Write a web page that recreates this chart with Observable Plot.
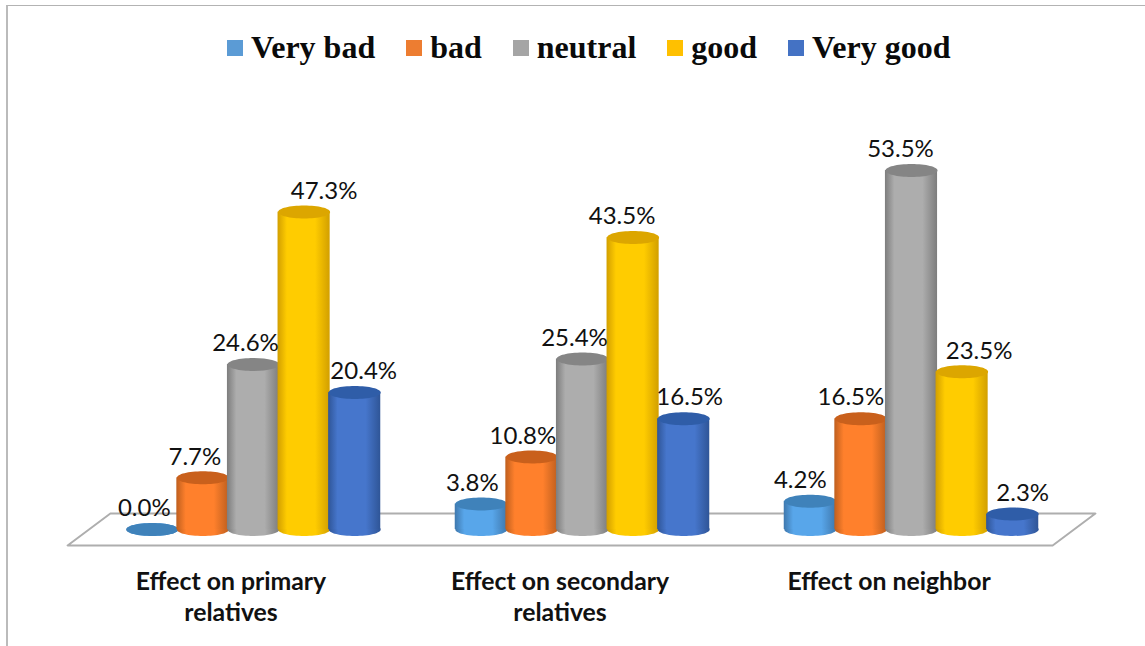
<!DOCTYPE html>
<html>
<head>
<meta charset="utf-8">
<script src="https://cdn.jsdelivr.net/npm/d3@7"></script>
<script src="https://cdn.jsdelivr.net/npm/@observablehq/plot@0.6"></script>
<style>
  html, body { margin: 0; padding: 0; background: #fff; }
  body { width: 1145px; height: 646px; position: relative; overflow: hidden; }
  #frame { position: absolute; left: 6px; top: 5px; right: 0; bottom: 0; border-top: 1px solid #b3b3b3; border-left: 2px solid #bbb; pointer-events: none; }
  #legend { height: 95px; box-sizing: border-box; padding: 27px 0 0 227px; display: flex; align-items: flex-start; gap: 31px;
            font: bold 32px "Liberation Serif", serif; color: #0a0a0a; line-height: 41px; }
  #legend span { display: flex; align-items: center; gap: 8px; white-space: nowrap; }
  #legend i { width: 16px; height: 16px; display: block; }
  #chart svg { display: block; }
</style>
</head>
<body>
<div id="frame"></div>
<div id="legend"></div>
<div id="chart"></div>
<script>
const groups = ["Effect on primary\nrelatives", "Effect on secondary\nrelatives", "Effect on neighbor"];
const seriesNames = ["Very bad", "bad", "neutral", "good", "Very good"];
const veryBad = [0.0, 3.8, 4.2];
const bad = [7.7, 10.8, 16.5];
const neutral = [24.6, 25.4, 53.5];
const good = [47.3, 43.5, 23.5];
const veryGood = [20.4, 16.5, 2.3];
const seriesValues = [veryBad, bad, neutral, good, veryGood];

// Cylinder shading per series: legend swatch, edge, centre, cap.
const swatch = ["#5b9bd5", "#ed7d31", "#a5a5a5", "#ffc000", "#4472c4"];
const edge = ["#3f78ad", "#bf5f1e", "#7d7d7d", "#d29f00", "#2f5597"];
const centre = ["#58a6ea", "#ff802c", "#adadad", "#ffcc00", "#4676cc"];
const cap = ["#3f82ba", "#c9601c", "#858585", "#dca600", "#2f5da8"];

// Horizontal nudge of each value label, in pixels, per series then group.
const labelNudge = [[-8, -9, -10], [-8, -9, -10], [-8, -8, -11], [20, -11, 17], [9, 6, 10]];

// Outline of the slanted floor, in axis units (group position, percent).
const floorX = [-0.565, 2.429, 2.559, -0.435];
const floorY = [-2.38, -2.38, 2.38, 2.38];

const barStep = 0.1538;      // bar spacing as a share of the group spacing
const capRx = 26, capRy = 6.5;
const pxPerPercent = 6.71;
const legendHeight = 95;
const baseY = 529 - legendHeight;

const rows = seriesValues.flatMap((values, s) =>
  values.map((value, g) => ({s, g, value, pos: g + (s - 2) * barStep})));

const floor = floorX.map((x, i) => ({x, y: floorY[i]}));

// Elliptical cylinder cap used as a dot symbol.
const ellipse = {
  draw(ctx) {
    const k = 0.5523, a = capRx, b = capRy;
    ctx.moveTo(-a, 0);
    ctx.bezierCurveTo(-a, -k * b, -k * a, -b, 0, -b);
    ctx.bezierCurveTo(k * a, -b, a, -k * b, a, 0);
    ctx.bezierCurveTo(a, k * b, k * a, b, 0, b);
    ctx.bezierCurveTo(-k * a, b, -a, k * b, -a, 0);
    ctx.closePath();
  }
};

// Gradient definitions referenced by the bar fills.
const gradientDefs = () => {
  const svg = d3.create("svg:defs");
  swatch.forEach((_, s) => {
    const g = svg.append("linearGradient").attr("id", `cyl${s}`).attr("x1", 0).attr("x2", 1).attr("y1", 0).attr("y2", 0);
    [[0, edge[s]], [0.18, centre[s]], [0.72, centre[s]], [1, edge[s]]].forEach(([o, c]) =>
      g.append("stop").attr("offset", o).attr("stop-color", c));
  });
  return svg.node();
};

const cylinderMarks = seriesNames.flatMap((_, s) => {
  const data = rows.filter((d) => d.s === s);
  return [
    Plot.dot(data, {x: "pos", y: () => 0, symbol: ellipse, fill: `url(#cyl${s})`}),
    Plot.rect(data, {
      x1: (d) => d.pos - barStep * 0.515,
      x2: (d) => d.pos + barStep * 0.515,
      y1: () => 0,
      y2: "value",
      fill: `url(#cyl${s})`
    }),
    Plot.dot(data, {x: "pos", y: "value", symbol: ellipse, fill: cap[s]})
  ];
});

const labelMarks = rows.map((d) =>
  Plot.text([d], {
    x: "pos",
    y: "value",
    text: (r) => `${r.value.toFixed(1)}%`,
    dx: labelNudge[d.s][d.g],
    dy: -21,
    fontSize: 24,
    fill: "#111"
  }));

const legend = d3.select("#legend");
seriesNames.forEach((name, s) => {
  const item = legend.append("span");
  item.append("i").style("background", swatch[s]);
  item.append("b").style("font-weight", "bold").text(name);
});

const chart = Plot.plot({
  width: 1145,
  height: 646 - legendHeight,
  marginBottom: 646 - 566,
  style: {fontFamily: "Lato, sans-serif", background: "transparent", overflow: "visible"},
  x: {type: "linear", domain: [0, 2], range: [253, 911]},
  y: {type: "linear", domain: [0, 60], range: [baseY, baseY - 60 * pxPerPercent]},
  marks: [
    gradientDefs,
    Plot.line(floor, {x: "x", y: "y", curve: "linear-closed", stroke: "#aeaeae", strokeWidth: 2}),
    ...cylinderMarks,
    ...labelMarks,
    Plot.axisX({
      ticks: [0, 1, 2],
      tickFormat: (i) => groups[i],
      tickSize: 0,
      tickPadding: 1,
      dx: -22.5,
      fontSize: 24.8,
      fontWeight: "bold",
      fill: "#111",
      lineAnchor: "top",
      lineHeight: 1.25,
      label: null
    }),
    Plot.axisY({ticks: [], label: null, tickSize: 0})
  ]
});
document.getElementById("chart").appendChild(chart);
</script>
</body>
</html>
